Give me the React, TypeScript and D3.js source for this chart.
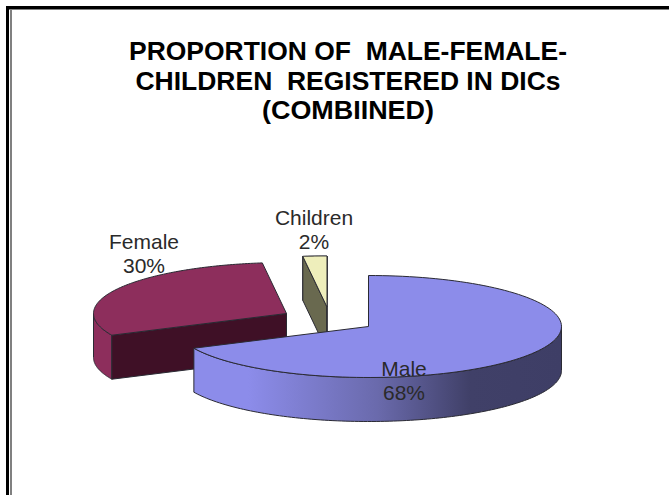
import React from "react";
import * as d3 from "d3";

// Share of people registered in drop-in centres, by group.
const categories = ["Male", "Female", "Children"];
const shares = [68, 30, 2];
const shareLabels = ["68%", "30%", "2%"];
const titleLines = ["PROPORTION OF  MALE-FEMALE-", "CHILDREN  REGISTERED IN DICs", "(COMBIINED)"];
const titleWidths = [438, 425, 172];

const WIDTH = 669;
const HEIGHT = 495;
const RX = 193;
const RY = 51;
const DEPTH = 44;

// Each slice is pulled away from the pie by its own offset, so every one has its own apex.
const apexes: [number, number][] = [[368.5, 326.5], [286.5, 313.5], [327, 307]];
const topColors = ["#8c8cea", "#8d2e5c", "#eeeebb"];
const cutColors = ["#8c8cea", "#3f1026", "#69694f"];
const labelAnchors: [number, number][] = [[404, 376], [144, 249], [314, 225]];

const pie = d3.pie<number>().sort(null).value((d) => d);
const slices = pie(shares);

const pathOf = d3.line<[number, number]>();

// Point on the tilted rim; angle is clockwise from twelve o'clock, as d3.pie reports it.
const rim = (apex: [number, number], angle: number, drop = 0): [number, number] => [
  apex[0] + RX * Math.sin(angle),
  apex[1] - RY * Math.cos(angle) + drop,
];

const sweep = (a0: number, a1: number): number[] => d3.range(0, 121).map((i) => a0 + ((a1 - a0) * i) / 120);

const topFace = (apex: [number, number], a0: number, a1: number) =>
  pathOf([apex, ...sweep(a0, a1).map((a) => rim(apex, a))]) + "Z";

const wall = (apex: [number, number], a0: number, a1: number) =>
  pathOf([
    ...sweep(a0, a1).map((a) => rim(apex, a)),
    ...sweep(a1, a0).map((a) => rim(apex, a, DEPTH)),
  ]) + "Z";

// Flat cut face running from the apex out to the rim at the given angle.
const cutFace = (apex: [number, number], a: number) => {
  const edge = rim(apex, a);
  return pathOf([apex, edge, [edge[0], edge[1] + DEPTH], [apex[0], apex[1] + DEPTH]]) + "Z";
};

const EDGE = "#2a2a33";

export default function App() {
  const [male, female, children] = slices;
  const maleApex = apexes[0];
  const femaleApex = apexes[1];
  const childApex = apexes[2];
  return (
    <svg
      width={WIDTH}
      height={HEIGHT}
      viewBox={`0 0 ${WIDTH} ${HEIGHT}`}
      style={{ position: "absolute", left: 0, top: 0, background: "#fff" }}
      fontFamily="'Liberation Sans', Arial, sans-serif"
    >
      <defs>
        <linearGradient id="maleWall" gradientUnits="userSpaceOnUse" x1={193} x2={562} y1={0} y2={0}>
          <stop offset="0.15" stopColor="#8c8cea" />
          <stop offset="0.5" stopColor="#6a6aac" />
          <stop offset="0.75" stopColor="#404068" />
          <stop offset="1" stopColor="#3e3e66" />
        </linearGradient>
      </defs>

      {/* Frame: top and left rules only */}
      <rect x={6} y={6} width={663} height={3} fill="#000" />
      <rect x={6} y={6} width={3} height={489} fill="#000" />
      <rect x={9} y={9} width={660} height={1} fill="#808080" />
      <rect x={10} y={9} width={2} height={486} fill="#808080" />

      <g fontWeight="bold" fontSize={25} textAnchor="middle" fill="#000">
        {titleLines.map((line, i) => (
          <text
            key={line}
            x={348}
            y={60 + i * 29.6}
            textLength={titleWidths[i]}
            lengthAdjust="spacingAndGlyphs"
          >
            {line.replace(/ {2}/g, " \u00a0")}
          </text>
        ))}
      </g>

      {/* Children slice */}
      <g stroke={EDGE} strokeWidth={1} strokeLinejoin="round">
        <path d={wall(childApex, children.startAngle, children.endAngle)} fill={cutColors[2]} />
        <path d={cutFace(childApex, children.startAngle)} fill={cutColors[2]} />
        <path d={cutFace(childApex, children.endAngle)} fill={cutColors[2]} />
        <path d={topFace(childApex, children.startAngle, children.endAngle)} fill={topColors[2]} />
      </g>

      {/* Female slice */}
      <g stroke={EDGE} strokeWidth={1} strokeLinejoin="round">
        <path d={wall(femaleApex, female.startAngle, (3 * Math.PI) / 2)} fill={topColors[1]} />
        <path d={cutFace(femaleApex, female.startAngle)} fill={cutColors[1]} />
        <path d={topFace(femaleApex, female.startAngle, female.endAngle)} fill={topColors[1]} />
      </g>

      {/* Male slice */}
      <g stroke={EDGE} strokeWidth={1} strokeLinejoin="round">
        <path d={wall(maleApex, Math.PI / 2, male.endAngle)} fill="url(#maleWall)" />
        <path d={topFace(maleApex, male.startAngle, male.endAngle)} fill={topColors[0]} />
      </g>

      <g fontSize={21} textAnchor="middle" fill="#2a2a2a">
        {categories.map((name, i) => (
          <text key={name} x={labelAnchors[i][0]} y={labelAnchors[i][1]}>
            <tspan x={labelAnchors[i][0]}>{name}</tspan>
            <tspan x={labelAnchors[i][0]} dy={24}>
              {shareLabels[i]}
            </tspan>
          </text>
        ))}
      </g>
    </svg>
  );
}
